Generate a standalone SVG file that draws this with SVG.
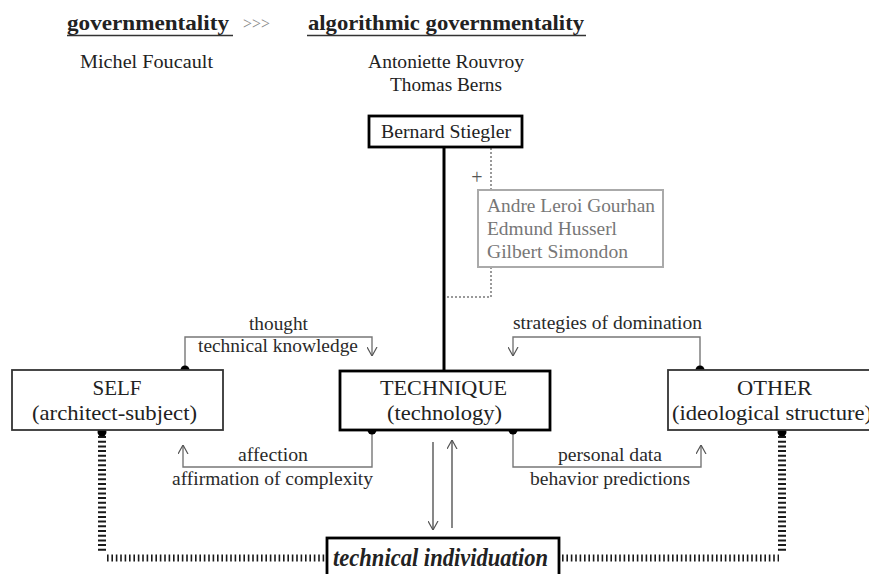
<svg xmlns="http://www.w3.org/2000/svg" width="869" height="574" viewBox="0 0 869 574" font-family="Liberation Serif, Times New Roman, serif">
<style>
text{font-family:'Liberation Serif','Times New Roman',Times,serif;fill:#222}
.h{font-size:22px;font-weight:bold}
.s{font-size:18px}
.b{font-size:21px}
.l{font-size:18px;fill:#2a2a2a}
.g{font-size:18px;fill:#777}
.box{fill:#fff;stroke:#333;stroke-width:1.8}
.tbox{fill:#fff;stroke:#000;stroke-width:2.8}
.con{fill:none;stroke:#777;stroke-width:1.4}
.arr{fill:none;stroke:#555;stroke-width:1.4}
.dot{fill:#000}
.thick{fill:none;stroke:#1a1a1a}
</style>
<defs>
<marker id="ah" markerUnits="userSpaceOnUse" markerWidth="9" markerHeight="11" viewBox="0 0 9 11" refX="9" refY="5.5" orient="auto">
<path d="M0,0.5 L9,5.5 L0,10.5" fill="none" stroke="#555" stroke-width="1.2"/>
</marker>
</defs>
<rect width="869" height="574" fill="#fff"/>

<g id="header">
<text class="h" x="67" y="30" textLength="162" lengthAdjust="spacingAndGlyphs">governmentality</text>
<line x1="67" y1="35.5" x2="233" y2="35.5" stroke="#333" stroke-width="1.5"/>
<text x="243" y="29" style="font-size:17px;fill:#888" textLength="27" lengthAdjust="spacingAndGlyphs">&gt;&gt;&gt;</text>
<text class="h" x="308" y="30" textLength="276" lengthAdjust="spacingAndGlyphs">algorithmic governmentality</text>
<line x1="307" y1="35.5" x2="586" y2="35.5" stroke="#333" stroke-width="1.5"/>
<text class="s" x="80" y="68" textLength="133" lengthAdjust="spacingAndGlyphs">Michel Foucault</text>
<text class="s" x="368" y="68" textLength="156" lengthAdjust="spacingAndGlyphs">Antoniette Rouvroy</text>
<text class="s" x="390" y="91" textLength="112" lengthAdjust="spacingAndGlyphs">Thomas Berns</text>
</g>

<g id="connectors">
<line x1="444" y1="147" x2="444" y2="371" stroke="#000" stroke-width="3"/>
<path d="M491,148 V190 M491,267 V297 H445" fill="none" stroke="#999" stroke-width="2" stroke-dasharray="2 2"/>
<text x="477" y="184" text-anchor="middle" style="font-size:20px;fill:#555">+</text>
<path class="con" d="M185,370 V337 H372 V356" marker-end="url(#ah)"/>
<path class="con" d="M700,370 V337 H513 V356" marker-end="url(#ah)"/>
<path class="con" d="M372,430 V467 H183 V445" marker-end="url(#ah)"/>
<path class="con" d="M513,430 V467 H701 V445" marker-end="url(#ah)"/>
<path class="arr" d="M433,442 V530" marker-end="url(#ah)"/>
<path class="arr" d="M452,528 V440" marker-end="url(#ah)"/>
<path class="thick" d="M102,436 V553" stroke-width="8" stroke-dasharray="2 2.7"/>
<path class="thick" d="M107,558 H326" stroke-width="7" stroke-dasharray="1.6 2.8"/>
<path class="thick" d="M782,436 V553" stroke-width="8" stroke-dasharray="2 2.7"/>
<path class="thick" d="M562,558 H779" stroke-width="7" stroke-dasharray="1.6 2.8"/>
<circle class="dot" cx="185" cy="370" r="4.5"/>
<circle class="dot" cx="700" cy="370" r="4.5"/>
<circle class="dot" cx="372" cy="430" r="4.5"/>
<circle class="dot" cx="513" cy="430" r="4.5"/>
<circle class="dot" cx="102" cy="432" r="4.5"/>
<circle class="dot" cx="782" cy="432" r="4.5"/>
<text class="l" x="249" y="330" textLength="59" lengthAdjust="spacingAndGlyphs">thought</text>
<text class="l" x="198" y="352" textLength="160" lengthAdjust="spacingAndGlyphs">technical knowledge</text>
<text class="l" x="513" y="329" textLength="189" lengthAdjust="spacingAndGlyphs">strategies of domination</text>
<text class="l" x="238" y="461" textLength="70" lengthAdjust="spacingAndGlyphs">affection</text>
<text class="l" x="172" y="485" textLength="201" lengthAdjust="spacingAndGlyphs">affirmation of complexity</text>
<text class="l" x="558" y="461" textLength="104" lengthAdjust="spacingAndGlyphs">personal data</text>
<text class="l" x="530" y="485" textLength="160" lengthAdjust="spacingAndGlyphs">behavior predictions</text>
</g>

<g id="stiegler">
<rect class="tbox" x="369" y="116" width="153" height="31"/>
<text class="s" x="381" y="138" textLength="130" lengthAdjust="spacingAndGlyphs">Bernard Stiegler</text>
</g>

<g id="influences">
<rect x="478" y="190" width="185" height="77" fill="#fff" stroke="#aaa" stroke-width="2"/>
<text class="g" x="487" y="212" textLength="168" lengthAdjust="spacingAndGlyphs">Andre Leroi Gourhan</text>
<text class="g" x="487" y="235" textLength="130" lengthAdjust="spacingAndGlyphs">Edmund Husserl</text>
<text class="g" x="487" y="258" textLength="141" lengthAdjust="spacingAndGlyphs">Gilbert Simondon</text>
</g>

<g id="self">
<rect class="box" x="12" y="370" width="211" height="60"/>
<text class="b" x="117" y="395" text-anchor="middle">SELF</text>
<text class="b" x="32" y="420" textLength="165" lengthAdjust="spacingAndGlyphs">(architect-subject)</text>
</g>

<g id="technique">
<rect class="tbox" x="340" y="371" width="210" height="59"/>
<text class="b" x="380" y="395" textLength="127" lengthAdjust="spacingAndGlyphs">TECHNIQUE</text>
<text class="b" x="387" y="420" textLength="115" lengthAdjust="spacingAndGlyphs">(technology)</text>
</g>

<g id="other">
<rect class="box" x="668" y="370" width="220" height="60"/>
<text class="b" x="737" y="395" textLength="75" lengthAdjust="spacingAndGlyphs">OTHER</text>
<text class="b" x="672" y="420" textLength="200" lengthAdjust="spacingAndGlyphs">(ideological structure)</text>
</g>

<g id="individuation">
<rect class="tbox" x="327" y="538" width="232" height="50"/>
<text x="333" y="566" style="font-size:25px;font-weight:bold;font-style:italic" textLength="215" lengthAdjust="spacingAndGlyphs">technical individuation</text>
</g>
</svg>
